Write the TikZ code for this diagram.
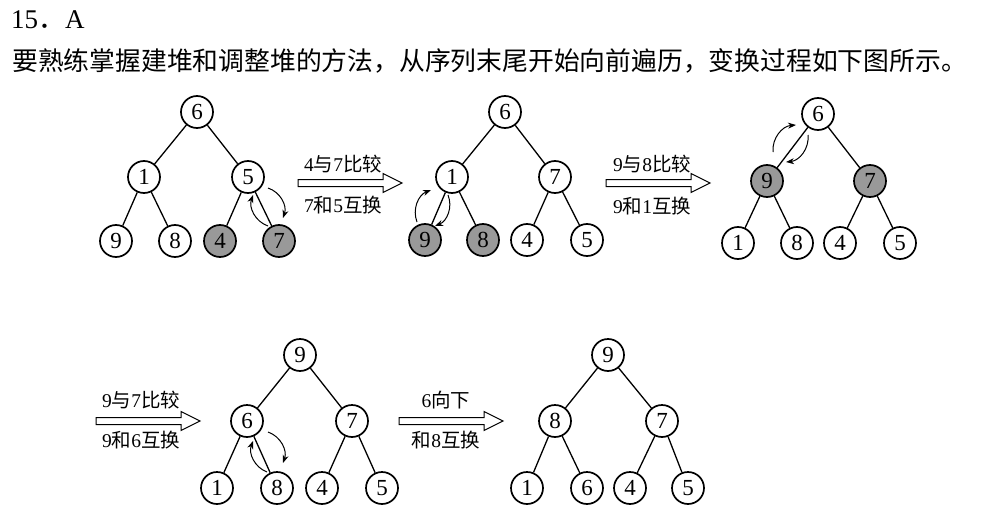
\documentclass[tikz,border=0pt]{standalone}
\usepackage{fontspec}
\setmainfont{Liberation Serif}
\newfontfamily\cjk{Noto Sans CJK SC}
\usetikzlibrary{arrows.meta}
\newcommand\hollowarrow[2]{%
  \coordinate (#1) at #2;
  \draw[line width=1pt] (#1) ++(-52,3.5) -- ++(85,0) -- ++(0,6) -- ++(19,-9.5) -- ++(-19,-9.5) -- ++(0,6) -- ++(-85,0) -- cycle;}
\begin{document}
\begin{tikzpicture}[x=1pt,y=1pt,
  hn/.style={circle,draw,line width=1.7pt,minimum size=32pt,inner sep=0pt,font=\fontsize{23}{23}\selectfont},
  sh/.style={hn,fill=black!40},
  ed/.style={line width=1.3pt},
  sw/.style={line width=1pt,-{Stealth[length=8pt,width=6pt,inset=2.5pt]},bend left=45},
  lab/.style={font=\fontsize{19.5}{19.5}\selectfont,inner sep=0pt},
  txt/.style={font=\fontsize{25.8}{25.8}\selectfont,inner sep=0pt,anchor=base west}
]
\useasboundingbox (0,0) rectangle (984,-524);

% heading
\node[txt,font=\fontsize{27}{27}\selectfont] (t1) at (11,-29) {15{\cjk ．}A};
\node[txt] (t2) at (12,-71) {\cjk 要熟练掌握建堆和调整堆的方法，从序列末尾开始向前遍历，变换过程如下图所示。};

% tree 1
\node[hn] (a6) at (197,-112) {6};
\node[hn] (a1) at (144,-177) {1};
\node[hn] (a5) at (248,-177) {5};
\node[hn] (a9) at (116,-241) {9};
\node[hn] (a8) at (175,-241) {8};
\node[sh] (a4) at (220,-241) {4};
\node[sh] (a7) at (279,-241) {7};
\draw[ed] (a6)--(a1) (a6)--(a5) (a1)--(a9) (a1)--(a8) (a5)--(a4) (a5)--(a7);
\coordinate (a1s) at (268,-226); \coordinate (a1e) at (253,-195);
\coordinate (a2s) at (268,-188); \coordinate (a2e) at (283,-218);
\draw[sw] (a1s) to (a1e);
\draw[sw] (a2s) to (a2e);

% arrow 1
\hollowarrow{A1}{(350,-183)}
\node[lab] (A1a) at (343,-164) {4{\cjk 与}7{\cjk 比较}};
\node[lab] (A1b) at (343,-205) {7{\cjk 和}5{\cjk 互换}};

% tree 2
\node[hn] (b6) at (505,-112) {6};
\node[hn] (b1) at (452,-177) {1};
\node[hn] (b7) at (555,-177) {7};
\node[sh] (b9) at (425,-240) {9};
\node[sh] (b8) at (483,-240) {8};
\node[hn] (b4) at (527,-240) {4};
\node[hn] (b5) at (587,-240) {5};
\draw[ed] (b6)--(b1) (b6)--(b7) (b1)--(b9) (b1)--(b8) (b7)--(b4) (b7)--(b5);
\coordinate (b1s) at (417,-222); \coordinate (b1e) at (431,-190);
\coordinate (b2s) at (448,-195); \coordinate (b2e) at (435,-226);
\draw[sw] (b1s) to (b1e);
\draw[sw] (b2s) to (b2e);

% arrow 2
\hollowarrow{A2}{(658,-183)}
\node[lab] (A2a) at (652,-164) {9{\cjk 与}8{\cjk 比较}};
\node[lab] (A2b) at (652,-206) {9{\cjk 和}1{\cjk 互换}};

% tree 3
\node[hn] (c6) at (818,-114) {6};
\node[sh] (c9) at (767,-181) {9};
\node[sh] (c7) at (870,-181) {7};
\node[hn] (c1) at (738,-243) {1};
\node[hn] (c8) at (797,-243) {8};
\node[hn] (c4) at (840,-243) {4};
\node[hn] (c5) at (900,-243) {5};
\draw[ed] (c6)--(c9) (c6)--(c7) (c9)--(c1) (c9)--(c8) (c7)--(c4) (c7)--(c5);
\coordinate (c1s) at (773,-152); \coordinate (c1e) at (796,-125);
\coordinate (c2s) at (808,-135); \coordinate (c2e) at (786,-162);
\draw[sw] (c1s) to (c1e);
\draw[sw] (c2s) to (c2e);

% arrow 3
\hollowarrow{A3}{(148,-421)}
\node[lab] (A3a) at (141,-400) {9{\cjk 与}7{\cjk 比较}};
\node[lab] (A3b) at (141,-440) {9{\cjk 和}6{\cjk 互换}};

% tree 4
\node[hn] (d9) at (300,-355) {9};
\node[hn] (d6) at (247,-421) {6};
\node[hn] (d7) at (352,-421) {7};
\node[hn] (d1) at (217,-488) {1};
\node[hn] (d8) at (277,-488) {8};
\node[hn] (d4) at (322,-488) {4};
\node[hn] (d5) at (382,-488) {5};
\draw[ed] (d9)--(d6) (d9)--(d7) (d6)--(d1) (d6)--(d8) (d7)--(d4) (d7)--(d5);
\coordinate (d1s) at (267,-472); \coordinate (d1e) at (253,-441);
\coordinate (d2s) at (268,-432); \coordinate (d2e) at (283,-463);
\draw[sw] (d1s) to (d1e);
\draw[sw] (d2s) to (d2e);

% arrow 4
\hollowarrow{A4}{(451,-421)}
\node[lab] (A4a) at (446,-400) {6{\cjk 向下}};
\node[lab] (A4b) at (446,-440) {{\cjk 和}8{\cjk 互换}};

% tree 5
\node[hn] (e9) at (608,-355) {9};
\node[hn] (e8) at (555,-421) {8};
\node[hn] (e7) at (662,-421) {7};
\node[hn] (e1) at (527,-488) {1};
\node[hn] (e6) at (587,-488) {6};
\node[hn] (e4) at (630,-488) {4};
\node[hn] (e5) at (688,-488) {5};
\draw[ed] (e9)--(e8) (e9)--(e7) (e8)--(e1) (e8)--(e6) (e7)--(e4) (e7)--(e5);
\end{tikzpicture}
\end{document}
